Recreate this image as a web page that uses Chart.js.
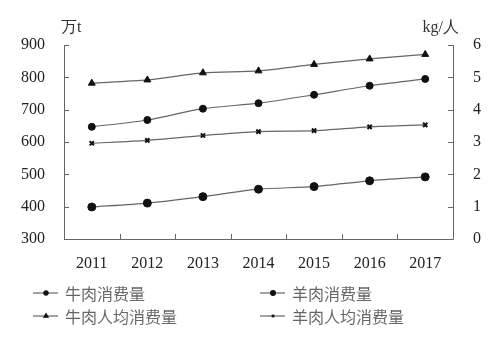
<!DOCTYPE html>
<html>
<head>
<meta charset="utf-8">
<script src="https://cdn.jsdelivr.net/npm/chart.js@4"></script>
<style>
  html, body { margin: 0; padding: 0; background: #fff; }
  #wrap { width: 500px; height: 338px; position: relative; }
</style>
</head>
<body>
<div id="wrap"><canvas id="chart"></canvas></div>
<script>
const years = ['2011', '2012', '2013', '2014', '2015', '2016', '2017'];
const beefTotal = [647, 668, 703, 720, 746, 774, 795];         // 万t
const muttonTotal = [399, 411, 431, 454, 462, 480, 492];       // 万t
const beefPerCap = [4.82, 4.92, 5.14, 5.20, 5.40, 5.57, 5.71]; // kg/人
const muttonPerCap = [2.96, 3.05, 3.20, 3.32, 3.35, 3.47, 3.53];
const leftTicks = [300, 400, 500, 600, 700, 800, 900];
const rightTicks = [0, 1, 2, 3, 4, 5, 6];

const axisColor = '#666';
const lineColor = '#666';
const markColor = '#111';
const serif = '"Liberation Serif", "DejaVu Serif", serif';
const cjk = '"Noto Sans CJK SC", "Noto Sans", sans-serif';

function series(label, data, axis, style, radius) {
    return {
        label: label,
        data: data,
        yAxisID: axis,
        borderColor: lineColor,
        borderWidth: 1.2,
        backgroundColor: markColor,
        pointBackgroundColor: markColor,
        pointBorderColor: markColor,
        pointBorderWidth: style === 'crossRot' ? 2 : 1,
        pointStyle: style,
        pointRadius: radius,
        tension: 0.25,
        fill: false
    };
}

const datasets = [
    series('牛肉消费量', beefTotal, 'y', 'circle', 3.5),
    series('羊肉消费量', muttonTotal, 'y', 'circle', 4),
    series('牛肉人均消费量', beefPerCap, 'y1', 'triangle', 4),
    series('羊肉人均消费量', muttonPerCap, 'y1', 'crossRot', 3)
];

// axis lines, inward ticks, unit labels and the two-column legend
const decor = {
    id: 'decor',
    afterDraw(chart) {
        const ctx = chart.ctx;
        const a = chart.chartArea;
        const x = chart.scales.x;
        const yl = chart.scales.y;
        const yr = chart.scales.y1;
        ctx.save();
        ctx.strokeStyle = axisColor;
        ctx.lineWidth = 1;
        ctx.beginPath();
        ctx.moveTo(a.left + 0.5, a.top);
        ctx.lineTo(a.left + 0.5, a.bottom + 0.5);
        ctx.lineTo(a.right + 0.5, a.bottom + 0.5);
        ctx.lineTo(a.right + 0.5, a.top);
        leftTicks.forEach(v => {
            const py = Math.round(yl.getPixelForValue(v)) + 0.5;
            ctx.moveTo(a.left, py);
            ctx.lineTo(a.left + 5, py);
        });
        rightTicks.forEach(v => {
            const py = Math.round(yr.getPixelForValue(v)) + 0.5;
            ctx.moveTo(a.right, py);
            ctx.lineTo(a.right - 5, py);
        });
        const step = x.getPixelForValue(1) - x.getPixelForValue(0);
        for (let i = 1; i < years.length; i++) {
            const px = Math.round(x.getPixelForValue(i) - step / 2) + 0.5;
            ctx.moveTo(px, a.bottom);
            ctx.lineTo(px, a.bottom - 5);
        }
        ctx.stroke();

        ctx.fillStyle = '#333';
        ctx.textBaseline = 'middle';
        ctx.font = '16px ' + serif;
        ctx.textAlign = 'left';
        ctx.fillText('万t', 61, 28);
        ctx.textAlign = 'right';
        ctx.fillText('kg/人', 459, 28);

        // legend
        const spots = [[33, 293], [260, 293], [33, 316], [260, 316]];
        ctx.font = '16px ' + cjk;
        ctx.textAlign = 'left';
        datasets.forEach((d, i) => {
            const [lx, ly] = spots[i];
            ctx.strokeStyle = lineColor;
            ctx.lineWidth = 1.2;
            ctx.beginPath();
            ctx.moveTo(lx, ly);
            ctx.lineTo(lx + 25, ly);
            ctx.stroke();
            ctx.fillStyle = markColor;
            ctx.strokeStyle = markColor;
            Chart.helpers.drawPoint(ctx, {
                pointStyle: d.pointStyle,
                radius: d.pointRadius * 0.6,
                rotation: 0,
                borderWidth: 1
            }, lx + 13, ly);
            ctx.fillStyle = '#666';
            ctx.fillText(d.label, lx + 32, ly + 1);
        });
        ctx.restore();
    }
};

new Chart(document.getElementById('chart'), {
    type: 'line',
    data: { labels: years, datasets: datasets },
    options: {
        responsive: true,
        maintainAspectRatio: false,
        animation: false,
        layout: { padding: { top: 45, bottom: 59, left: 0, right: 0 } },
        plugins: { legend: { display: false }, tooltip: { enabled: false } },
        scales: {
            x: {
                offset: true,
                grid: { display: false, drawTicks: false },
                border: { display: false },
                ticks: { color: '#222', font: { family: serif, size: 16 }, padding: 15 },
                afterFit: s => { s.height = 40; }
            },
            y: {
                position: 'left',
                min: 300, max: 900,
                grid: { display: false, drawTicks: false },
                border: { display: false },
                ticks: { stepSize: 100, color: '#222', font: { family: serif, size: 16 }, padding: 19 },
                afterFit: s => { s.width = 64; }
            },
            y1: {
                position: 'right',
                min: 0, max: 6,
                grid: { display: false, drawTicks: false },
                border: { display: false },
                ticks: { stepSize: 1, color: '#222', font: { family: serif, size: 16 }, padding: 20 },
                afterFit: s => { s.width = 47; }
            }
        }
    },
    plugins: [decor]
});
</script>
</body>
</html>
